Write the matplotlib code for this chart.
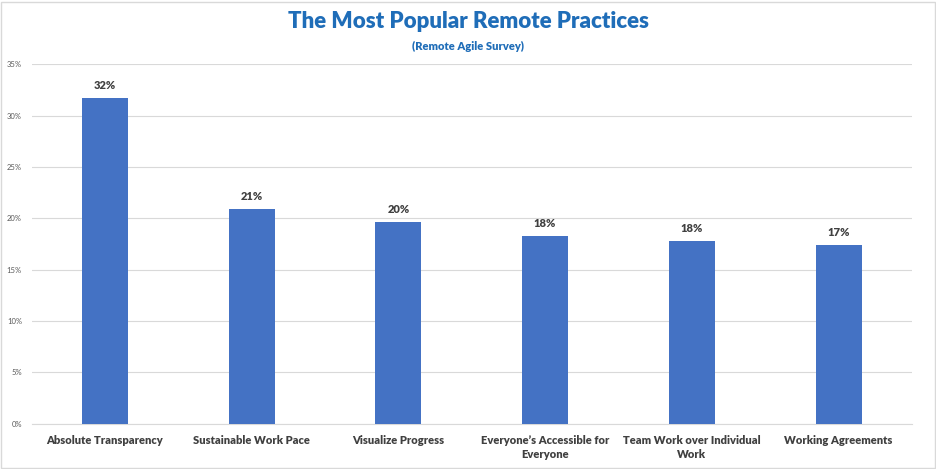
import matplotlib
matplotlib.use("Agg")
import matplotlib.pyplot as plt
from matplotlib.patches import Rectangle
from matplotlib.ticker import FuncFormatter

categories = ["Absolute Transparency", "Sustainable Work Pace", "Visualize Progress",
              "Everyone\u2019s Accessible for\nEveryone", "Team Work over Individual\nWork",
              "Working Agreements"]
values = [31.7, 20.9, 19.65, 18.3, 17.8, 17.4]
labels = ["32%", "21%", "20%", "18%", "18%", "17%"]
yticks = [0, 5, 10, 15, 20, 25, 30, 35]

plt.rcParams['font.family'] = ['Lato', 'DejaVu Sans']

fig = plt.figure(figsize=(9.37, 4.69), dpi=100)
W, H = 937, 469
ax = fig.add_axes([31.6 / W, 1 - 423.7 / H, (911.9 - 31.6) / W, (423.7 - 64.3) / H])

x = range(len(categories))
bars = ax.bar(x, values, width=0.314, color="#4472C4", zorder=3)
for b, lab in zip(bars, labels):
    ax.annotate(lab, (b.get_x() + b.get_width() / 2, b.get_height()),
                xytext=(0, 5), textcoords="offset points", ha="center", va="bottom",
                fontsize=8, fontweight="heavy", color="#404040")

ax.set_xlim(-0.5, len(categories) - 0.5)
ax.set_ylim(0, 35)
ax.set_yticks(yticks)
ax.yaxis.set_major_formatter(FuncFormatter(lambda v, p: f"{int(v)}%"))
ax.set_xticks(list(x))
ax.set_xticklabels(categories, fontsize=8, fontweight="heavy", color="#404040", linespacing=1.3)
ax.tick_params(axis="y", labelsize=5.5, labelcolor="#595959", length=0, pad=7)
ax.tick_params(axis="x", length=0, pad=8)
ax.grid(axis="y", color="#D9D9D9", linewidth=0.8, zorder=0)
for s in ["top", "right", "left"]:
    ax.spines[s].set_visible(False)
ax.spines["bottom"].set_color("#D9D9D9")
ax.spines["bottom"].set_linewidth(0.8)

fig.text(0.5, 1 - 22 / H, "The Most Popular Remote Practices", ha="center", va="center",
         fontsize=16, fontweight="heavy", color="#1F6DB8")
fig.text(0.5, 1 - 46 / H, "(Remote Agile Survey)", ha="center", va="center",
         fontsize=8, fontweight="heavy", color="#1F6DB8")

fig.patches.append(Rectangle((1 / W, 1 / H), 1 - 3 / W, 1 - 3 / H, transform=fig.transFigure,
                             fill=False, edgecolor="#D9D9D9", linewidth=1))

fig.savefig("out.png", dpi=100)
